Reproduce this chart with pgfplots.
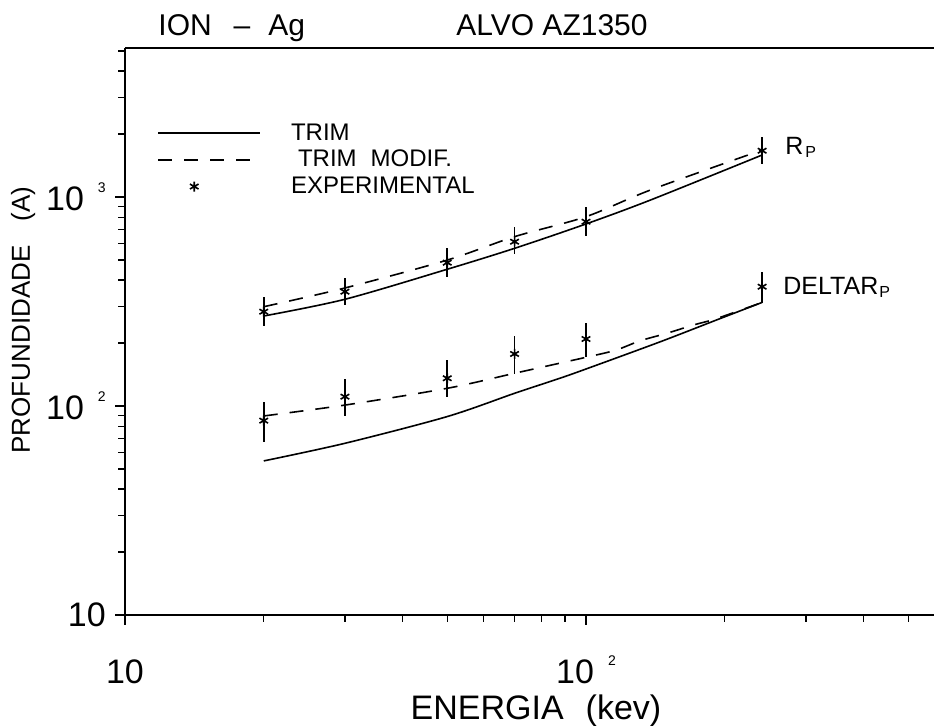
\documentclass[border=0pt]{standalone}
\usepackage{fontspec}
\setmainfont{Liberation Sans}
\usepackage{pgfplots}
\pgfplotsset{compat=1.18}
\pgfplotsset{
  linelegend/.style={legend image code/.code={\draw[##1] (0pt,0pt) -- (51pt,0pt);}},
  starlegend/.style={legend image code/.code={\draw[##1] plot coordinates {(18pt,0pt)}; \path (0pt,0pt) (51pt,0pt);}},
}
\newcommand{\tenp}[1]{10\hspace{7pt}\raisebox{9pt}{\fontsize{7}{8}\selectfont #1}}
\begin{document}
\begin{tikzpicture}
\path[use as bounding box] (-62.5pt,-55.5pt) rectangle (404.5pt,307.5pt);
\begin{axis}[
  at={(0,0)}, anchor=south west,
  scale only axis, width=404.5pt, height=283.5pt,
  xmode=log, ymode=log,
  xmin=10, xmax=568.7, ymin=10, ymax=5163,
  axis x line*=box, axis y line*=left,
  axis line style={line width=0.75pt},
  clip mode=individual,
  xtick={10,100}, xticklabels={10,\tenp{2}},
  ytick={10,100,1000}, yticklabels={10\hspace{12pt},\tenp{2},\tenp{3}},
  minor xtick={20,30,40,50,60,70,80,90,200,300,400,500},
  minor ytick={20,30,40,50,60,70,80,90,200,300,400,500,600,700,800,900,2000,3000,4000,5000},
  tick align=outside, xtick pos=left, ytick pos=left,
  major tick length=5pt, minor tick length=3.5pt,
  tick style={line width=0.7pt, black},
  ticklabel style={font=\fontsize{17}{20}\selectfont, inner sep=0pt},
  xticklabel style={anchor=north, text height=12.3pt, yshift=-17pt},
  yticklabel style={anchor=east, xshift=-4.5pt},
  xlabel={ENERGIA\hspace{11pt}(kev)},
  xlabel style={at={(rel axis cs:0.508,-0.185)}, anchor=base, font=\fontsize{17}{20}\selectfont, inner sep=0pt},
  ylabel={PROFUNDIDADE\hspace{12pt}(A)},
  ylabel style={at={(rel axis cs:-0.126,0.52)}, anchor=center, font=\fontsize{13}{15}\selectfont, inner sep=0pt},
  legend style={at={(rel axis cs:0.0396,0.871)}, anchor=north west, draw=none, fill=none,
    font=\fontsize{12}{14}\selectfont, row sep=1.5pt, column sep=14pt, inner sep=0pt,
    nodes={inner sep=1pt, anchor=west}},
  legend cell align=left,
]
% upper (R_P)
\addplot[black, line width=0.8pt, smooth, linelegend] coordinates {
 (20,269.5) (30,324) (50,451) (70,568) (100,743) (138,967) (241,1588)};
\addlegendentry{TRIM}
\addplot[black, line width=0.8pt, smooth, dash pattern=on 7pt off 6pt, linelegend] coordinates {
 (20,298.5) (30,367) (50,499) (70,646) (100,805) (138,1080) (241,1678)};
\addlegendentry{\hspace{3.5pt}TRIM\hspace{7pt}MODIF.}
\addplot[black, only marks, mark=asterisk, mark size=2.5pt, line width=0.8pt, starlegend,
  error bars/.cd, y dir=both, y explicit, error mark=none,
  error bar style={line width=0.8pt}] coordinates {
 (20,282.6) += (0,49.7) -= (0,41.2)
 (30,352.3) += (0,57.4) -= (0,48.1)
 (50,484.9) += (0,85.1) -= (0,70.7)
 (70,611)   += (0,110)  -= (0,77.2)
 (100,761.8) += (0,133.2) -= (0,110.8)
 (241,1665) += (0,278) -= (0,227)};
\addlegendentry{EXPERIMENTAL}
% lower (DELTA R_P)
\addplot[black, line width=0.8pt, smooth, forget plot] coordinates {
 (20,54.6) (30,66.3) (50,89) (70,115) (88,136) (101,151.5) (145,203) (192,258) (241,313)};
\addplot[black, line width=0.8pt, smooth, dash pattern=on 7pt off 6pt, forget plot] coordinates {
 (20,89.6) (30,101) (50,121.5) (70,143.4) (100,171) (116,185) (131,205) (150,223) (171,244) (192,262) (241,313)};
\addplot[black, only marks, mark=asterisk, mark size=2.5pt, line width=0.8pt, forget plot,
  error bars/.cd, y dir=both, y explicit, error mark=none,
  error bar style={line width=0.8pt}] coordinates {
 (20,85.1) += (0,19.7) -= (0,17.6)
 (30,110.8) += (0,23.8) -= (0,21.2)
 (50,135.7) += (0,30.3) -= (0,24.9)
 (70,177.4) += (0,38.9) -= (0,35.1)
 (100,209.2) += (0,41.2) -= (0,38.2)
 (241,372.2) += (0,67) -= (0,60.2)};
% annotations
\node[anchor=base west, inner sep=0pt, font=\fontsize{12.5}{15}\selectfont] at (axis cs:270,1589) {R\hspace{1pt}\raisebox{-1.5pt}{\fontsize{8}{9}\selectfont P}};
\node[anchor=base west, inner sep=0pt, font=\fontsize{12.5}{15}\selectfont] at (axis cs:267.5,340) {DELTAR\hspace{0.5pt}\raisebox{-1.5pt}{\fontsize{8}{9}\selectfont P}};
% titles
\node[anchor=base west, inner sep=0pt, font=\fontsize{15}{18}\selectfont] at (rel axis cs:0.0408,1.0229) {ION\hspace{11pt}--\hspace{9pt}Ag};
\node[anchor=base west, inner sep=0pt, font=\fontsize{15}{18}\selectfont] at (rel axis cs:0.4091,1.0229) {ALVO AZ1350};
\end{axis}
\end{tikzpicture}
\end{document}
